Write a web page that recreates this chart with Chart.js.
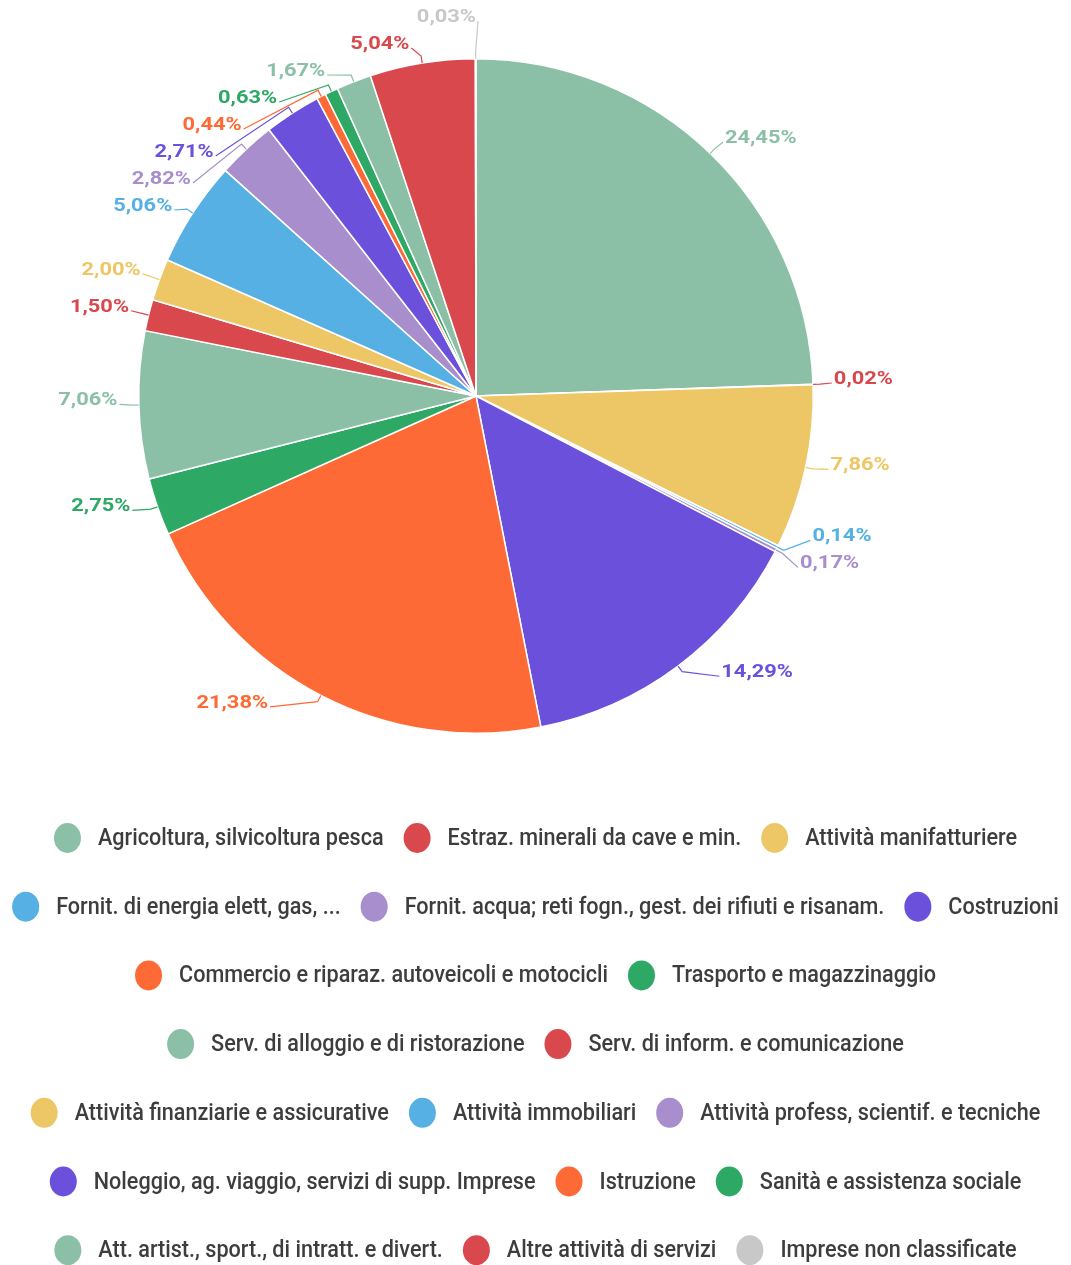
<!DOCTYPE html>
<html>
<head>
<meta charset="utf-8">
<script src="https://cdn.jsdelivr.net/npm/chart.js@4.4.0/dist/chart.umd.min.js"></script>
<style>
  html, body { margin: 0; padding: 0; background: #fff; }
  #wrap { width: 1071px; height: 1265px; }
</style>
</head>
<body>
<div id="wrap"><canvas id="settori" width="1071" height="1265"></canvas></div>
<script>
// Imprese per settore di attività (quota %)
const categories = [
    "Agricoltura, silvicoltura pesca",
    "Estraz. minerali da cave e min.",
    "Attività manifatturiere",
    "Fornit. di energia elett, gas, ...",
    "Fornit. acqua; reti fogn., gest. dei rifiuti e risanam.",
    "Costruzioni",
    "Commercio e riparaz. autoveicoli e motocicli",
    "Trasporto e magazzinaggio",
    "Serv. di alloggio e di ristorazione",
    "Serv. di inform. e comunicazione",
    "Attività finanziarie e assicurative",
    "Attività immobiliari",
    "Attività profess, scientif. e tecniche",
    "Noleggio, ag. viaggio, servizi di supp. Imprese",
    "Istruzione",
    "Sanità e assistenza sociale",
    "Att. artist., sport., di intratt. e divert.",
    "Altre attività di servizi",
    "Imprese non classificate",
];
const shares = [
    24.45, 0.02, 7.86, 0.14, 0.17, 14.29, 21.38, 2.75, 7.06, 1.5,
    2.0, 5.06, 2.82, 2.71, 0.44, 0.63, 1.67, 5.04, 0.03,
];
const sliceColors = [
    "#8cc0a6", "#d9484d", "#edc765", "#56b0e4", "#a88ecd", "#6b50dc",
    "#fe6a35", "#2da865", "#8cc0a6", "#d9484d", "#edc765", "#56b0e4",
    "#a88ecd", "#6b50dc", "#fe6a35", "#2da865", "#8cc0a6", "#d9484d",
    "#c8c8c8",
];

// label + legend styling
const LABEL_FONT = "bold 19px Roboto";
const LABEL_SX = 1.15;
const LABEL_GAP = 27;
const LABEL_MIN_Y = 17;
const LEGEND_FONT = "500 24px Roboto";
const LEGEND_SX = 0.9;
const LEGEND_TOP = 838;
const LEGEND_ROW_H = 68.7;
const LEGEND_MAX_W = 1060;
const MARK_RX = 13.5;
const MARK_RY = 15;
const MARK_TEXT_GAP = 17;
const ITEM_GAP = 20;

const formatShare = (v) => v.toFixed(2).replace(".", ",") + "%";

// push overlapping labels apart, keeping each group centred on its natural spot
function spread(list, minY, maxY) {
    list.sort((a, b) => a.y - b.y);
    const groups = list.map((l) => ({ items: [l], sum: l.y, top: l.y }));
    let merged = true;
    while (merged) {
        merged = false;
        groups.forEach((g) => {
            const n = g.items.length;
            let top = g.sum / n - ((n - 1) * LABEL_GAP) / 2;
            top = Math.max(minY, Math.min(top, maxY - (n - 1) * LABEL_GAP));
            g.top = top;
        });
        for (let k = 1; k < groups.length; k++) {
            const a = groups[k - 1];
            const b = groups[k];
            if (a.top + a.items.length * LABEL_GAP > b.top) {
                a.items = a.items.concat(b.items);
                a.sum += b.sum;
                groups.splice(k, 1);
                merged = true;
                break;
            }
        }
    }
    groups.forEach((g) => g.items.forEach((l, j) => (l.y = g.top + j * LABEL_GAP)));
}

const sliceLabels = {
    id: "sliceLabels",
    afterDatasetsDraw(chart) {
        const ctx = chart.ctx;
        const arcs = chart.getDatasetMeta(0).data;
        const left = [];
        const right = [];
        arcs.forEach((arc, i) => {
            const p = arc.getProps(["x", "y", "startAngle", "endAngle", "outerRadius"]);
            const mid = (p.startAngle + p.endAngle) / 2;
            const item = {
                i,
                cx: p.x,
                cy: p.y,
                r: p.outerRadius,
                mid,
                rimX: p.x + Math.cos(mid) * p.outerRadius,
                rimY: p.y + Math.sin(mid) * p.outerRadius,
                y: p.y + Math.sin(mid) * (p.outerRadius + 14) - 5,
                side: Math.cos(mid) >= 0 ? 1 : -1,
            };
            (item.side > 0 ? right : left).push(item);
        });
        spread(left, LABEL_MIN_Y, chart.height);
        spread(right, LABEL_MIN_Y, chart.height);

        ctx.save();
        ctx.font = LABEL_FONT;
        ctx.textBaseline = "middle";
        ctx.lineWidth = 1.2;
        left.concat(right).forEach((l) => {
            // labels under the pie sit a little further out
            const lr = l.r + 21 + 14 * Math.max(0, Math.sin(l.mid));
            const dy = l.y - l.cy;
            const dx = Math.sqrt(Math.max(0, lr * lr - dy * dy));
            const tx = l.cx + l.side * dx;
            const color = sliceColors[l.i];

            // leader line: rim -> short radial step -> label edge
            ctx.strokeStyle = color;
            ctx.beginPath();
            ctx.moveTo(l.rimX, l.rimY);
            ctx.lineTo(l.rimX + Math.cos(l.mid) * 7, l.rimY + Math.sin(l.mid) * 7);
            ctx.lineTo(tx - l.side * 2, l.y + 4);
            ctx.stroke();

            ctx.fillStyle = color;
            ctx.textAlign = l.side > 0 ? "left" : "right";
            ctx.save();
            ctx.translate(tx, l.y);
            ctx.scale(LABEL_SX, 1);
            ctx.fillText(formatShare(shares[l.i]), 0, 0);
            ctx.restore();
        });
        ctx.restore();
    },
};

const legendRows = {
    id: "legendRows",
    afterDraw(chart) {
        const ctx = chart.ctx;
        ctx.save();
        ctx.font = LEGEND_FONT;
        const items = categories.map((name, i) => {
            const w = ctx.measureText(name).width * LEGEND_SX;
            return { name, color: sliceColors[i], full: 2 * MARK_RX + MARK_TEXT_GAP + w };
        });

        // greedy wrap into centred rows
        const rows = [[]];
        let rowW = 0;
        items.forEach((it) => {
            const row = rows[rows.length - 1];
            const add = (row.length ? ITEM_GAP : 0) + it.full;
            if (row.length && rowW + add > LEGEND_MAX_W) {
                rows.push([it]);
                rowW = it.full;
            } else {
                row.push(it);
                rowW += add;
            }
        });

        ctx.textAlign = "left";
        ctx.textBaseline = "middle";
        rows.forEach((row, r) => {
            const total = row.reduce((s, it) => s + it.full, 0) + ITEM_GAP * (row.length - 1);
            let x = (chart.width - total) / 2;
            const y = LEGEND_TOP + r * LEGEND_ROW_H;
            row.forEach((it) => {
                ctx.fillStyle = it.color;
                ctx.beginPath();
                ctx.ellipse(x + MARK_RX, y, MARK_RX, MARK_RY, 0, 0, Math.PI * 2);
                ctx.fill();

                ctx.save();
                ctx.translate(x + 2 * MARK_RX + MARK_TEXT_GAP, y + 1);
                ctx.scale(LEGEND_SX, 1);
                ctx.fillStyle = "#3d3d3d";
                ctx.fillText(it.name, 0, 0);
                ctx.restore();
                x += it.full + ITEM_GAP;
            });
        });
        ctx.restore();
    },
};

const ctx = document.getElementById("settori").getContext("2d");
const chart = new Chart(ctx, {
    type: "pie",
    data: {
        labels: categories,
        datasets: [
            {
                data: shares,
                backgroundColor: sliceColors,
                borderColor: "#ffffff",
                borderWidth: 1.5,
                hoverOffset: 0,
            },
        ],
    },
    options: {
        responsive: false,
        devicePixelRatio: 1,
        animation: false,
        events: [],
        layout: {
            padding: { top: 58, bottom: 531, left: 138, right: 257 },
        },
        plugins: {
            legend: { display: false },
            tooltip: { enabled: false },
        },
    },
    plugins: [sliceLabels, legendRows],
});
</script>
</body>
</html>
